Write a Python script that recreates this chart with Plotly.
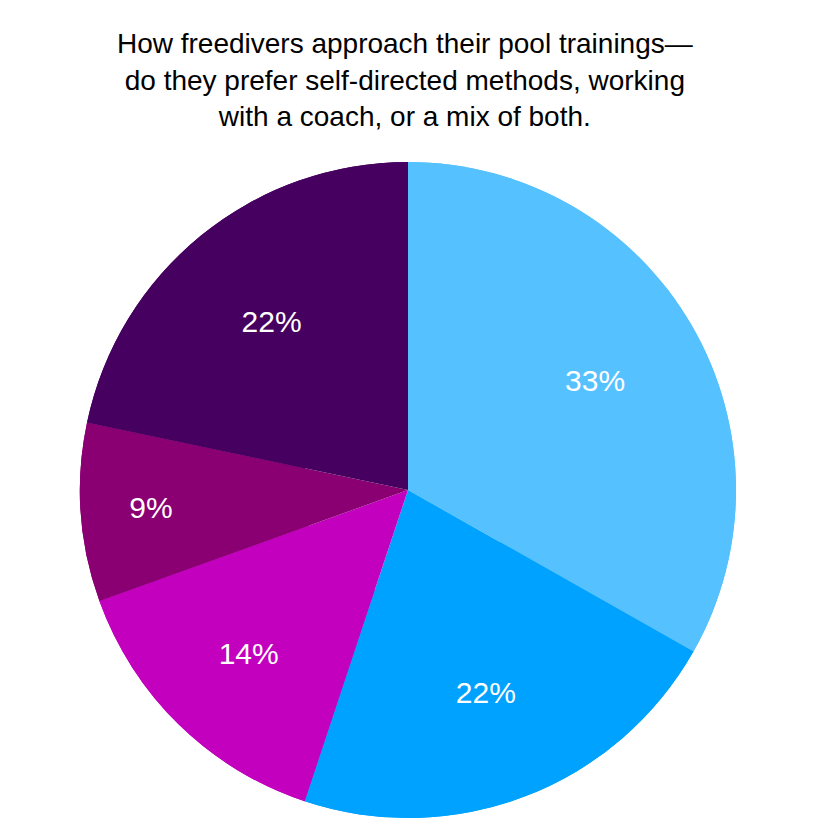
import plotly.graph_objects as go

# slices read clockwise from 12 o'clock
labels = ["Self-directed", "With a coach", "Mix, mostly self-directed", "Mix, mostly coach", "Mix of both"]
shares = [33.2, 21.9, 14.4, 8.8, 21.7]
colors = ["#56C1FF", "#00A2FF", "#C200BE", "#8A0072", "#46005F"]

TITLE = ("How freedivers approach their pool trainings\u2014<br>"
         "do they prefer self-directed methods, working<br>"
         "with a coach, or a mix of both.")

FONT = "Liberation Sans, Arial, sans-serif"

common = dict(
    labels=labels,
    values=shares,
    sort=False,
    direction="clockwise",
    rotation=0,
    marker=dict(colors=colors, line=dict(width=0)),
    showlegend=False,
)

fig = go.Figure()
# full pie, no text
fig.add_trace(go.Pie(textinfo="none", hoverinfo="label+percent", **common))
# ring on top carrying the labels, so they sit about 2/3 of the way out
fig.add_trace(
    go.Pie(
        hole=0.32,
        textinfo="percent",
        texttemplate="%{percent:.0%}",
        textposition="inside",
        insidetextorientation="horizontal",
        textfont=dict(color="white", size=30, family=FONT),
        hoverinfo="skip",
        **common,
    )
)

fig.update_layout(
    width=839,
    height=839,
    paper_bgcolor="white",
    plot_bgcolor="white",
    margin=dict(l=72, r=111, t=154, b=29),
    title=dict(
        text=TITLE,
        x=0.473,
        xanchor="center",
        y=0.946,
        yanchor="top",
        yref="container",
        font=dict(size=28, color="black", family=FONT),
    ),
    uniformtext=dict(minsize=30, mode="show"),
)

fig.write_html("out.html")
